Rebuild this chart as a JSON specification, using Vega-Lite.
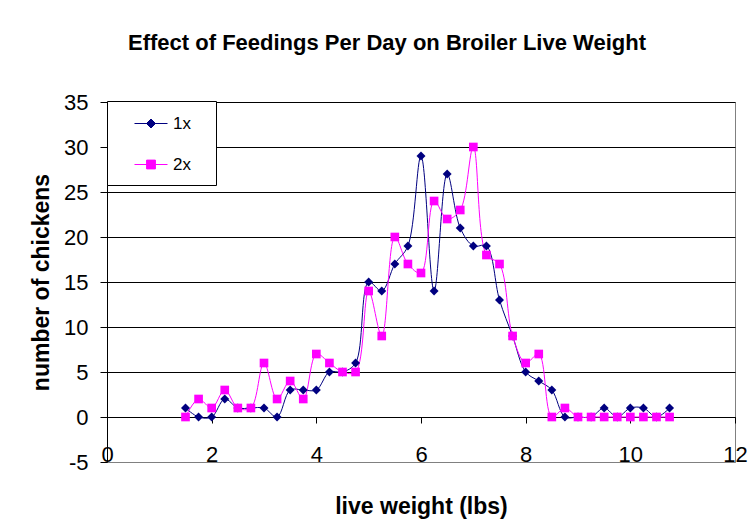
{
  "$schema": "https://vega.github.io/schema/vega-lite/v6.json",
  "autosize": "none",
  "width": 628,
  "height": 360,
  "padding": {"left": 107, "top": 102, "right": 14, "bottom": 64},
  "background": "white",
  "title": {
    "text": "Effect of Feedings Per Day on Broiler Live Weight",
    "font": "Liberation Sans",
    "fontSize": 22,
    "fontWeight": "bold",
    "color": "black",
    "anchor": "middle",
    "dx": -34,
    "offset": 36
  },
  "config": {
    "view": {"stroke": "#808080", "strokeWidth": 1},
    "axis": {
      "labelFont": "Liberation Sans",
      "labelFontSize": 22,
      "labelColor": "black",
      "titleFont": "Liberation Sans",
      "titleFontSize": 23,
      "titleFontWeight": "bold",
      "titleColor": "black",
      "domainColor": "black",
      "tickColor": "black"
    }
  },
  "data": {
    "values": [
      {"w": 1.5, "s": "1x", "n": 1}, {"w": 1.75, "s": "1x", "n": 0}, {"w": 2, "s": "1x", "n": 0},
      {"w": 2.25, "s": "1x", "n": 2}, {"w": 2.5, "s": "1x", "n": 1}, {"w": 2.75, "s": "1x", "n": 1},
      {"w": 3, "s": "1x", "n": 1}, {"w": 3.25, "s": "1x", "n": 0}, {"w": 3.5, "s": "1x", "n": 3},
      {"w": 3.75, "s": "1x", "n": 3}, {"w": 4, "s": "1x", "n": 3}, {"w": 4.25, "s": "1x", "n": 5},
      {"w": 4.5, "s": "1x", "n": 5}, {"w": 4.75, "s": "1x", "n": 6}, {"w": 5, "s": "1x", "n": 15},
      {"w": 5.25, "s": "1x", "n": 14}, {"w": 5.5, "s": "1x", "n": 17}, {"w": 5.75, "s": "1x", "n": 19},
      {"w": 6, "s": "1x", "n": 29}, {"w": 6.25, "s": "1x", "n": 14}, {"w": 6.5, "s": "1x", "n": 27},
      {"w": 6.75, "s": "1x", "n": 21}, {"w": 7, "s": "1x", "n": 19}, {"w": 7.25, "s": "1x", "n": 19},
      {"w": 7.5, "s": "1x", "n": 13}, {"w": 7.75, "s": "1x", "n": 9}, {"w": 8, "s": "1x", "n": 5},
      {"w": 8.25, "s": "1x", "n": 4}, {"w": 8.5, "s": "1x", "n": 3}, {"w": 8.75, "s": "1x", "n": 0},
      {"w": 9, "s": "1x", "n": 0}, {"w": 9.25, "s": "1x", "n": 0}, {"w": 9.5, "s": "1x", "n": 1},
      {"w": 9.75, "s": "1x", "n": 0}, {"w": 10, "s": "1x", "n": 1}, {"w": 10.25, "s": "1x", "n": 1},
      {"w": 10.5, "s": "1x", "n": 0}, {"w": 10.75, "s": "1x", "n": 1},
      {"w": 1.5, "s": "2x", "n": 0}, {"w": 1.75, "s": "2x", "n": 2}, {"w": 2, "s": "2x", "n": 1},
      {"w": 2.25, "s": "2x", "n": 3}, {"w": 2.5, "s": "2x", "n": 1}, {"w": 2.75, "s": "2x", "n": 1},
      {"w": 3, "s": "2x", "n": 6}, {"w": 3.25, "s": "2x", "n": 2}, {"w": 3.5, "s": "2x", "n": 4},
      {"w": 3.75, "s": "2x", "n": 2}, {"w": 4, "s": "2x", "n": 7}, {"w": 4.25, "s": "2x", "n": 6},
      {"w": 4.5, "s": "2x", "n": 5}, {"w": 4.75, "s": "2x", "n": 5}, {"w": 5, "s": "2x", "n": 14},
      {"w": 5.25, "s": "2x", "n": 9}, {"w": 5.5, "s": "2x", "n": 20}, {"w": 5.75, "s": "2x", "n": 17},
      {"w": 6, "s": "2x", "n": 16}, {"w": 6.25, "s": "2x", "n": 24}, {"w": 6.5, "s": "2x", "n": 22},
      {"w": 6.75, "s": "2x", "n": 23}, {"w": 7, "s": "2x", "n": 30}, {"w": 7.25, "s": "2x", "n": 18},
      {"w": 7.5, "s": "2x", "n": 17}, {"w": 7.75, "s": "2x", "n": 9}, {"w": 8, "s": "2x", "n": 6},
      {"w": 8.25, "s": "2x", "n": 7}, {"w": 8.5, "s": "2x", "n": 0}, {"w": 8.75, "s": "2x", "n": 1},
      {"w": 9, "s": "2x", "n": 0}, {"w": 9.25, "s": "2x", "n": 0}, {"w": 9.5, "s": "2x", "n": 0},
      {"w": 9.75, "s": "2x", "n": 0}, {"w": 10, "s": "2x", "n": 0}, {"w": 10.25, "s": "2x", "n": 0},
      {"w": 10.5, "s": "2x", "n": 0}, {"w": 10.75, "s": "2x", "n": 0}
    ]
  },
  "encoding": {
    "x": {
      "field": "w", "type": "quantitative",
      "scale": {"domain": [0, 12], "nice": false, "zero": false},
      "axis": {
        "title": "live weight (lbs)",
        "values": [0, 2, 4, 6, 8, 10, 12],
        "grid": false,
        "offset": -45,
        "tickSize": 6,
        "labelPadding": 21,
        "titlePadding": 30,
        "labelFlush": false,
        "labelOverlap": false
      }
    },
    "y": {
      "field": "n", "type": "quantitative",
      "scale": {"domain": [-5, 35], "nice": false, "zero": false},
      "axis": {
        "title": "number of chickens",
        "values": [-5, 0, 5, 10, 15, 20, 25, 30, 35],
        "labelExpr": "datum.value < 0 ? '-' + abs(datum.value) : datum.label",
        "grid": true,
        "gridColor": {"condition": {"test": "datum.value === -5", "value": "#808080"}, "value": "black"},
        "gridOpacity": 1,
        "tickSize": 7,
        "labelPadding": 12,
        "titlePadding": 10,
        "labelFlush": false,
        "labelOverlap": false
      }
    },
    "color": {
      "field": "s", "type": "nominal",
      "scale": {"domain": ["1x", "2x"], "range": ["#000080", "#FF00FF"]},
      "legend": {
        "title": null,
        "orient": "none",
        "legendX": 0,
        "legendY": -1,
        "fillColor": "white",
        "strokeColor": "black",
        "padding": 12,
        "symbolSize": 400,
        "symbolStrokeWidth": 1,
        "labelFont": "Liberation Sans",
        "labelFontSize": 17,
        "labelColor": "black",
        "labelOffset": 33,
        "rowPadding": 22,
        "encode": {
          "symbols": {
            "update": {
              "shape": {"signal": "datum.value === '1x' ? 'M0.5,0L3.8,0M2.15,-0.45L2.6,0L2.15,0.45L1.7,0ZM7.2,0' : 'M0.5,0L3.8,0M1.71,-0.44L2.59,-0.44L2.59,0.44L1.71,0.44ZM7.2,0'"},
              "fill": {"signal": "datum.value === '1x' ? '#000080' : '#FF00FF'"},
              "stroke": {"signal": "datum.value === '1x' ? '#000080' : '#FF00FF'"},
              "strokeWidth": {"value": 1},
              "opacity": {"value": 1},
              "fillOpacity": {"value": 1},
              "strokeOpacity": {"value": 1}
            }
          }
        }
      }
    }
  },
  "layer": [
    {
      "mark": {"type": "line", "interpolate": "catmull-rom", "strokeWidth": 1}
    },
    {
      "transform": [{"filter": "datum.s === '1x'"}],
      "mark": {"type": "point", "shape": "diamond", "filled": true, "opacity": 1, "size": 80}
    },
    {
      "transform": [{"filter": "datum.s === '2x'"}],
      "mark": {"type": "point", "shape": "square", "filled": true, "opacity": 1, "size": 75}
    }
  ]
}
